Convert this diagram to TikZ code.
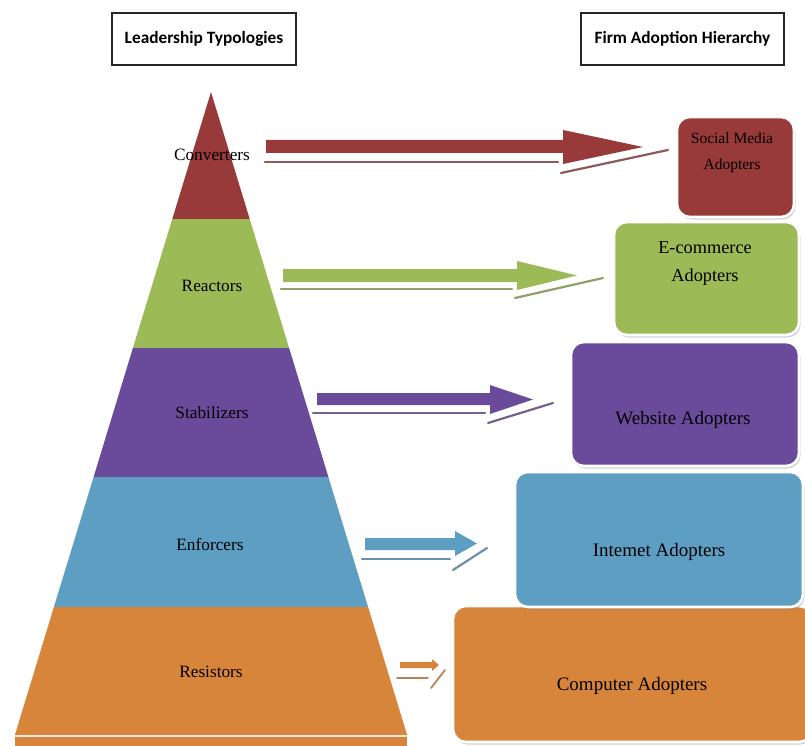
\documentclass[tikz,border=0pt]{standalone}
\usepackage{fontspec}
\setmainfont{Liberation Serif}
\newfontfamily\headfont{Carlito}
\usetikzlibrary{shadows}

\definecolor{convRed}{HTML}{973A39}
\definecolor{reactGreen}{HTML}{9CBB56}
\definecolor{stabPurple}{HTML}{6A4A9B}
\definecolor{enfBlue}{HTML}{5F9EC3}
\definecolor{resOrange}{HTML}{D8853C}

% block arrow: #1 colour, #2 start x, #3 neck x, #4 tip x,
% #5 shaft top, #6 shaft bottom, #7 head top, #8 head bottom
\newcommand\blockarrow[8]{%
  \fill[#1] (#2,#5) -- (#3,#5) -- (#3,#7) -- (#4,{(#7+#8)/2})
    -- (#3,#8) -- (#3,#6) -- (#2,#6) -- cycle;
}

\tikzset{
  header/.style={draw=black!85, line width=1.4pt, fill=white,
    font=\headfont\bfseries\fontsize{17.3}{19}\selectfont, inner sep=0pt},
  layerlabel/.style={font=\fontsize{17.3}{19}\selectfont, inner sep=0pt},
  adopter/.style={rounded corners=13pt, draw=white, line width=2.6pt,
    drop shadow={opacity=0.35, shadow xshift=1.5pt, shadow yshift=-2.5pt}},
  adoptext/.style={font=\fontsize{19}{23}\selectfont, align=center, inner sep=0pt},
  glint/.style={line width=2.2pt, line cap=round},
}

\begin{document}
\begin{tikzpicture}[x=1pt, y=-1pt]
\useasboundingbox (0,0) rectangle (805,746);

% ---- column headers ----
\node[header, minimum width=184pt, minimum height=52pt] (lt) at (204,39) {Leadership Typologies};
\node[header, minimum width=203pt, minimum height=52pt] (fa) at (682.5,39) {Firm Adoption Hierarchy};

% ---- leadership pyramid ----
\fill[convRed]    (211,92) -- (249.7,219) -- (172.3,219) -- cycle;
\fill[reactGreen] (172.3,219) -- (249.7,219) -- (289.1,348) -- (132.9,348) -- cycle;
\fill[stabPurple] (132.9,348) -- (289.1,348) -- (328.4,477) -- (93.6,477) -- cycle;
\fill[enfBlue]    (93.6,477) -- (328.4,477) -- (368.1,607) -- (53.9,607) -- cycle;
\fill[resOrange]  (53.9,607) -- (368.1,607) -- (407.4,736) -- (14.6,736) -- cycle;
\fill[resOrange]  (14.6,736) rectangle (407.4,746);
\draw[white!85!resOrange, line width=1.6pt] (14.6,736) -- (407.4,736);

\node[layerlabel] (conv)  at (212,155) {Converters};
\node[layerlabel] (react) at (212,286) {Reactors};
\node[layerlabel] (stab)  at (212,413) {Stabilizers};
\node[layerlabel] (enf)   at (210,544) {Enforcers};
\node[layerlabel] (res)   at (211,672) {Resistors};

% ---- adoption hierarchy boxes (lowest first, so upper ones overlap) ----
\filldraw[adopter, fill=resOrange]  (453,606) rectangle (812,742);
\filldraw[adopter, fill=enfBlue]    (515,472) rectangle (803,607);
\filldraw[adopter, fill=stabPurple] (571,342) rectangle (799,466);
\filldraw[adopter, fill=reactGreen] (614,222) rectangle (799,335);
\filldraw[adopter, fill=convRed]    (677,117) rectangle (794,217);

\node[adoptext] (comp) at (632,686) {Computer Adopters};
\node[adoptext] (inet) at (659,552) {Intemet Adopters};
\node[adoptext] (web)  at (683,420) {Website Adopters};
\node[adoptext, font=\fontsize{18.3}{28}\selectfont] (ecom) at (705,263) {E-commerce\\Adopters};
\node[adoptext, font=\fontsize{15.5}{26}\selectfont] (soc) at (732,153) {Social Media\\Adopters};

% ---- block arrows with their reflections ----
\blockarrow{convRed}{266}{563}{643}{140}{153}{130}{164}
\draw[glint, convRed!55!gray] (265,162) -- (558,162);
\draw[glint, convRed!55!gray] (561,173) -- (668,150);

\blockarrow{reactGreen}{283}{517}{577}{269}{282}{261}{290}
\draw[glint, reactGreen!55!gray] (281,289) -- (512,289);
\draw[glint, reactGreen!55!gray] (515,298) -- (603,278);

\blockarrow{stabPurple}{317}{490}{533}{393}{405}{385}{414}
\draw[glint, stabPurple!55!gray] (313,413) -- (485,413);
\draw[glint, stabPurple!55!gray] (488,423) -- (553,403);

\blockarrow{enfBlue}{365}{455}{477}{538}{550}{531}{556}
\draw[glint, enfBlue!55!gray] (362,559) -- (450,559);
\draw[glint, enfBlue!55!gray] (453,570) -- (487,548);

\blockarrow{resOrange}{400}{432}{439}{662}{668}{659}{671}
\draw[glint, resOrange!60!gray, line width=1.8pt] (397,678) -- (428,678);
\draw[glint, resOrange!60!gray, line width=1.8pt] (431,688) -- (445,670);
\end{tikzpicture}
\end{document}
